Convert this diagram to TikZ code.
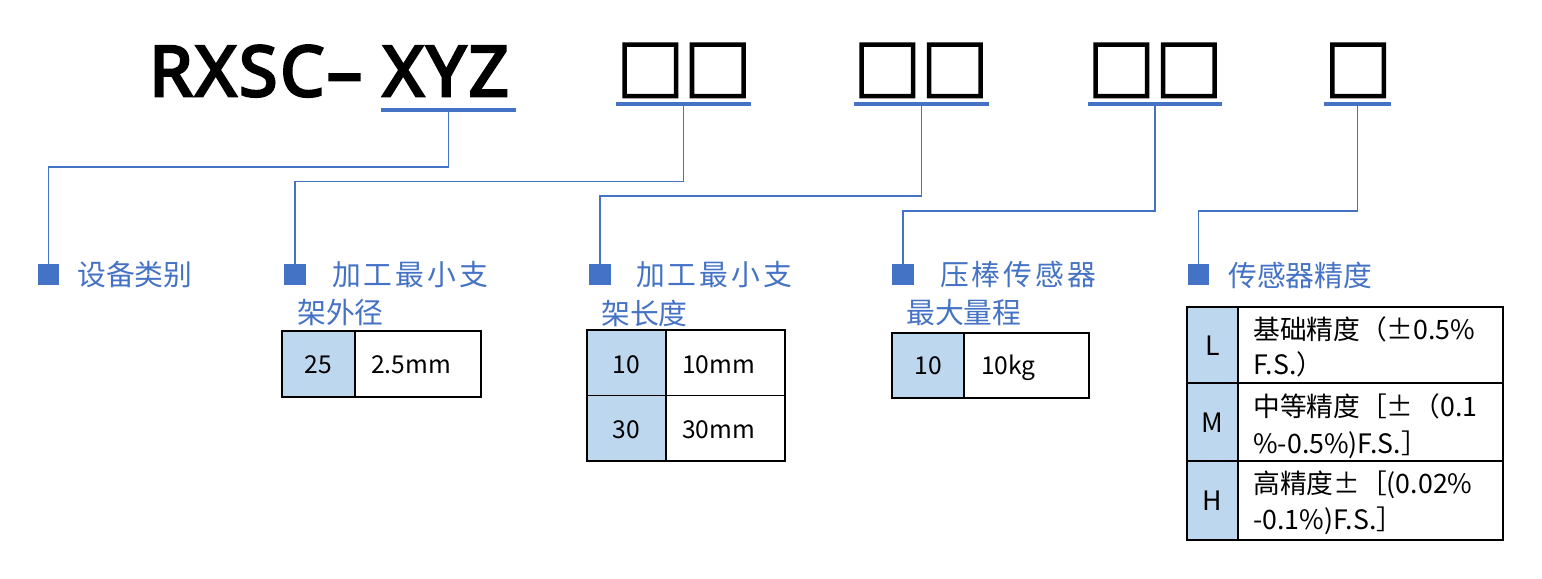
\documentclass[tikz,border=0pt]{standalone}
\usepackage{fontspec}
\setmainfont{Noto Sans CJK SC}
\newfontfamily\titlefont{Noto Sans}[FakeBold=4, LetterSpace=4]
\newfontfamily\slotfont{Noto Sans CJK SC}[FakeBold=3]

\definecolor{ublue}{HTML}{4472C4}
\definecolor{keyblue}{HTML}{BDD7EE}

\tikzset{
  title/.style={inner sep=0pt, font=\titlefont\fontsize{49.6}{52}\selectfont},
  slot/.style={anchor=base, inner sep=0pt, font=\slotfont\fontsize{48}{50}\selectfont},
  uline/.style={ublue, line width=2.2pt},
  conn/.style={ublue, line width=0.9pt},
  bullet/.style={fill=ublue, inner sep=0pt, minimum size=0.53cm},
  lbl/.style={ublue, anchor=west, inner sep=0pt, font=\fontsize{20.5}{24}\selectfont},
  wide/.style={font=\fontsize{20.5}{24}\selectfont\addfontfeature{LetterSpace=10}},
  grid/.style={draw=black, line width=0.9pt},
  txt/.style={anchor=base, inner sep=0pt, font=\fontsize{17.5}{20}\selectfont},
  txtb/.style={anchor=base, inner sep=0pt, font=\fontsize{19}{22}\selectfont}
}

\begin{document}
\begin{tikzpicture}[x=0.025cm, y=-0.025cm]
\useasboundingbox (0,0) rectangle (1542,578);

% code and open slots
\node[title, anchor=base west] (code) at (149,96) {RXSC– XYZ};
\node[slot] (s1) at (684,96) {□□};
\node[slot] (s2) at (921,96) {□□};
\node[slot] (s3) at (1155,96) {□□};
\node[slot] (s4) at (1358,96) {□};

\draw[uline] (381,110) -- coordinate (u0) (516,110);
\draw[uline] (616,104) -- coordinate (u1) (751,104);
\draw[uline] (854,104) -- coordinate (u2) (989,104);
\draw[uline] (1088,104) -- coordinate (u3) (1222,104);
\draw[uline] (1324,104) -- coordinate (u4) (1391,104);

% bullets
\node[bullet] (b0) at (48.5,274.5) {};
\node[bullet] (b1) at (295,274.5) {};
\node[bullet] (b2) at (600,274.5) {};
\node[bullet] (b3) at (903,274.5) {};
\node[bullet] (b4) at (1198.5,274.5) {};

% connectors
\coordinate (k0) at (0,167);
\coordinate (k1) at (0,181.5);
\coordinate (k2) at (0,196);
\coordinate (k3) at (0,211);
\draw[conn] (u0) -- (u0 |- k0) -| (b0.north);
\draw[conn] (u1) -- (u1 |- k1) -| (b1.north);
\draw[conn] (u2) -- (u2 |- k2) -| (b2.north);
\draw[conn] (u3) -- (u3 |- k3) -| (b3.north);
\draw[conn] (u4) -- (u4 |- k3) -| (b4.north);

% labels
\node[lbl] (l0) at (77,275) {设备类别};
\node[lbl, wide] (l1) at (332,275) {加工最小支};
\node[lbl] (l1b) at (297,313) {架外径};
\node[lbl, wide] (l2) at (636,275) {加工最小支};
\node[lbl] (l2b) at (601,313) {架长度};
\node[lbl, wide] (l3) at (940,275) {压棒传感器};
\node[lbl] (l3b) at (906,313) {最大量程};
\node[lbl] (l4) at (1228,275) {传感器精度};

% table 1
\fill[keyblue] (282,331) rectangle (355,397);
\draw[grid] (282,331) rectangle (481,397) (355,331) -- (355,397);
\node[txt] (k1a) at (318.5,373) {25};
\node[txt, anchor=base west] (v1a) at (371,373) {2.5mm};

% table 2
\fill[keyblue] (587,330) rectangle (666,461);
\draw[grid] (587,330) rectangle (785,461) (666,330) -- (666,461) (587,395.5) -- (785,395.5);
\node[txt] (k2a) at (626.5,373) {10};
\node[txt, anchor=base west] (v2a) at (682,373) {10mm};
\node[txt] (k2b) at (626.5,438) {30};
\node[txt, anchor=base west] (v2b) at (682,438) {30mm};

% table 3
\fill[keyblue] (892,333) rectangle (964,398);
\draw[grid] (892,333) rectangle (1089,398) (964,333) -- (964,398);
\node[txt] (k3a) at (928,374) {10};
\node[txt, anchor=base west] (v3a) at (981,374) {10kg};

% table 4
\fill[keyblue] (1187,307) rectangle (1238,540);
\draw[grid] (1187,307) rectangle (1503,540) (1238,307) -- (1238,540)
  (1187,383) -- (1503,383) (1187,461) -- (1503,461);
\node[txtb] (k4a) at (1212.5,355) {L};
\node[txtb] (k4b) at (1212.5,432) {M};
\node[txtb] (k4c) at (1212.5,510) {H};
\node[txtb, anchor=base west] (v4a) at (1253,339) {基础精度（±0.5\%};
\node[txtb, anchor=base west] (v4a2) at (1253,374) {F.S.）};
\node[txtb, anchor=base west] (v4b) at (1253,416) {中等精度［±（0.1};
\node[txtb, anchor=base west] (v4b2) at (1253,453) {\%-0.5\%)F.S.］};
\node[txtb, anchor=base west] (v4c) at (1253,493) {高精度±［(0.02\%};
\node[txtb, anchor=base west] (v4c2) at (1253,529) {-0.1\%)F.S.］};
\end{tikzpicture}
\end{document}
